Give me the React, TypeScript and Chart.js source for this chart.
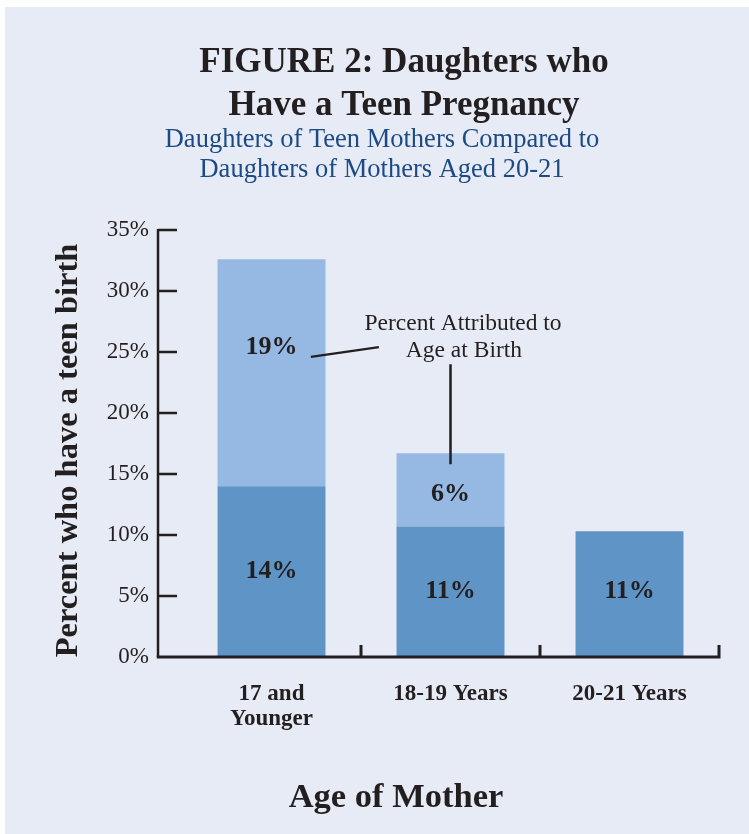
import React, { useEffect, useRef } from 'react';
import { Chart, registerables } from 'chart.js';

Chart.register(...registerables);

// ---- data ----
const categories: (string | string[])[] = [['17 and', 'Younger'], '18-19 Years', '20-21 Years'];
const baseline = [14.0, 10.7, 10.3]; // dark segment
const attributed = [18.6, 6.0, null]; // light segment, attributed to age at birth
const baselineLabels = ['14%', '11%', '11%'];
const attributedLabels = ['19%', '6%', ''];
const baselineLabelAt = [6.5, 4.8, 4.8];
const attributedLabelAt = [24.8, 12.8, null];
const yMin = 0;
const yMax = 35;
const yStep = 5;

const titleLines = ['FIGURE 2: Daughters who', 'Have a Teen Pregnancy'];
const subtitleLines = ['Daughters of Teen Mothers Compared to', 'Daughters of Mothers Aged 20-21'];
const yTitle = 'Percent who have a teen birth';
const xTitle = 'Age of Mother';
const calloutLines = ['Percent Attributed to', 'Age at Birth'];

// ---- styles ----
const SERIF = '"Liberation Serif", "Times New Roman", "DejaVu Serif", serif';
const INK = '#231f20';
const NAVY = '#1c4a85';
const DARK = '#5e95c6';
const LIGHT = '#95b9e2';
const PANEL = '#e7ebf5';

const decorPlugin = {
  id: 'decor',
  afterDatasetsDraw(chart: any) {
    const { ctx, chartArea, scales } = chart;
    const xs = scales.x;
    const ys = scales.y;
    ctx.save();

    // titles
    ctx.fillStyle = INK;
    ctx.textAlign = 'center';
    ctx.textBaseline = 'alphabetic';
    ctx.font = `bold 35px ${SERIF}`;
    ctx.fillText(titleLines[0], 404, 72);
    ctx.fillText(titleLines[1], 404, 115);
    ctx.fillStyle = NAVY;
    ctx.font = `26.5px ${SERIF}`;
    ctx.fillText(subtitleLines[0], 382, 147);
    ctx.fillText(subtitleLines[1], 382, 177);

    // axis titles
    ctx.fillStyle = INK;
    ctx.font = `bold 34.5px ${SERIF}`;
    ctx.fillText(xTitle, 396, 807);
    ctx.save();
    ctx.translate(77, (ys.top + ys.bottom) / 2 + 7);
    ctx.rotate(-Math.PI / 2);
    ctx.font = `bold 32.5px ${SERIF}`;
    ctx.fillText(yTitle, 0, 0);
    ctx.restore();

    // value labels (baseline placed at the given value)
    ctx.font = `bold 26px ${SERIF}`;
    const meta0 = chart.getDatasetMeta(0);
    baselineLabels.forEach((t, i) => {
      if (!t) return;
      const bar = meta0.data[i];
      ctx.fillText(t, bar.x, ys.getPixelForValue(baselineLabelAt[i]));
    });
    const meta1 = chart.getDatasetMeta(1);
    attributedLabels.forEach((t, i) => {
      const at = attributedLabelAt[i];
      if (!t || at == null) return;
      const bar = meta1.data[i];
      ctx.fillText(t, bar.x, ys.getPixelForValue(at));
    });

    // callout
    ctx.font = `23.5px ${SERIF}`;
    ctx.fillText(calloutLines[0], xs.getPixelForValue(1.07), ys.getPixelForValue(26.8));
    ctx.fillText(calloutLines[1], xs.getPixelForValue(1.075), ys.getPixelForValue(24.6));
    ctx.strokeStyle = INK;
    ctx.lineWidth = 2.5;
    ctx.lineCap = 'butt';
    ctx.beginPath();
    ctx.moveTo(xs.getPixelForValue(0.22), ys.getPixelForValue(24.6));
    ctx.lineTo(xs.getPixelForValue(0.6), ys.getPixelForValue(25.4));
    ctx.moveTo(xs.getPixelForValue(1.0), ys.getPixelForValue(24.0));
    ctx.lineTo(xs.getPixelForValue(1.0), ys.getPixelForValue(15.8));
    ctx.stroke();

    // axes
    const axisX = xs.getPixelForValue(-0.634);
    const y0 = ys.getPixelForValue(yMin);
    const yTop = ys.getPixelForValue(yMax);
    ctx.lineWidth = 2.5;
    ctx.beginPath();
    ctx.moveTo(axisX, yTop - 1);
    ctx.lineTo(axisX, y0);
    for (let v = yMin + yStep; v <= yMax; v += yStep) {
      const py = ys.getPixelForValue(v);
      ctx.moveTo(axisX, py);
      ctx.lineTo(axisX + 19, py);
    }
    ctx.stroke();
    ctx.lineWidth = 3;
    ctx.beginPath();
    ctx.moveTo(axisX - 1.25, y0);
    ctx.lineTo(chartArea.right + 1.5, y0);
    for (let i = 0; i < categories.length; i++) {
      const px = xs.getPixelForValue(i + 0.5);
      ctx.moveTo(px, y0);
      ctx.lineTo(px, y0 - 12);
    }
    ctx.stroke();
    ctx.restore();
  },
};

export default function App() {
  const ref = useRef<HTMLCanvasElement | null>(null);

  useEffect(() => {
    if (!ref.current) return;
    const chart = new Chart(ref.current, {
      type: 'bar',
      data: {
        labels: categories as any,
        datasets: [
          {
            label: 'Baseline',
            data: baseline,
            backgroundColor: DARK,
            borderWidth: 0,
            barPercentage: 0.603,
            categoryPercentage: 1,
          },
          {
            label: 'Attributed to Age at Birth',
            data: attributed as any,
            backgroundColor: LIGHT,
            borderWidth: 0,
            barPercentage: 0.603,
            categoryPercentage: 1,
          },
        ],
      },
      options: {
        animation: false,
        responsive: false,
        devicePixelRatio: 1,
        layout: { padding: { top: 230, right: 30, left: 0, bottom: 0 } },
        plugins: {
          legend: { display: false },
          tooltip: { enabled: false },
          title: { display: false },
        },
        scales: {
          x: {
            stacked: true,
            grid: { display: false, drawTicks: false },
            border: { display: false },
            ticks: {
              color: INK,
              font: { family: SERIF, size: 23, weight: 'bold', lineHeight: 1.1 },
              padding: 24,
              autoSkip: false,
              maxRotation: 0,
              minRotation: 0,
            },
            afterFit(scale: any) {
              scale.height = 177;
            },
          },
          y: {
            stacked: true,
            min: yMin,
            max: yMax,
            grid: { display: false, drawTicks: false },
            border: { display: false },
            ticks: {
              stepSize: yStep,
              color: INK,
              font: { family: SERIF, size: 23 },
              padding: 33,
              callback: (v: any) => `${v}%`,
            },
            afterFit(scale: any) {
              scale.width = 182;
            },
          },
        },
      },
      plugins: [decorPlugin],
    });
    return () => chart.destroy();
  }, []);

  return (
    <div style={{ position: 'absolute', left: 0, top: 0, width: 749, height: 834, background: '#ffffff', overflow: 'hidden' }}>
      <div style={{ position: 'absolute', left: 5, top: 7, right: 0, bottom: 0, background: PANEL }} />
      <canvas ref={ref} width={749} height={834} style={{ position: 'absolute', left: 0, top: 0, width: 749, height: 834 }} />
    </div>
  );
}
